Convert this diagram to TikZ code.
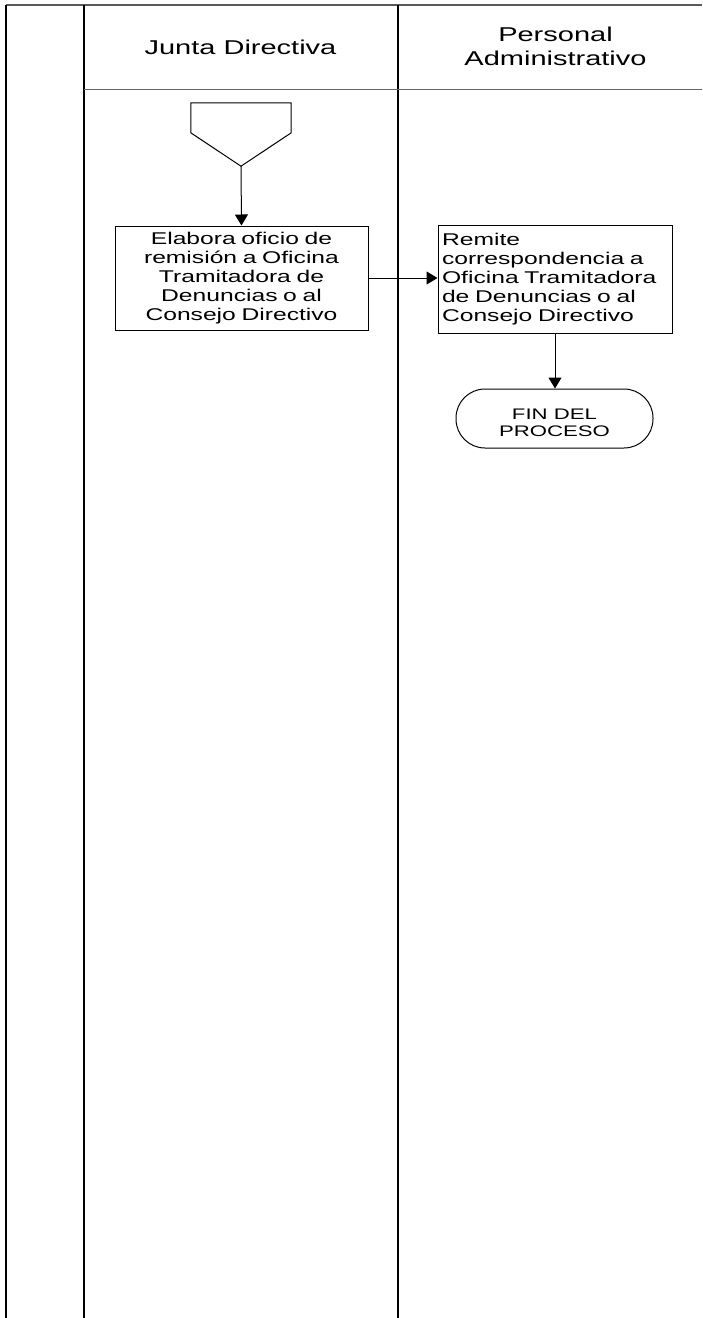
\documentclass[tikz,border=0pt]{standalone}
\usepackage{fontspec}
\setmainfont{Liberation Sans}
\newfontfamily\wide[FakeStretch=1.45]{Liberation Sans}
\usetikzlibrary{arrows.meta,calc}

\begin{document}
\begin{tikzpicture}[x=1pt,y=-1pt,
  lane/.style={line width=2pt, draw=black},
  toprule/.style={line width=2.4pt, draw=black!65},
  headrule/.style={line width=1.2pt, draw=black!60},
  head/.style={font=\wide\fontsize{20}{24}\selectfont, align=center, inner sep=0pt},
  proc/.style={draw, line width=1pt, inner xsep=4pt, inner ysep=0pt,
    font=\wide\fontsize{17}{19}\selectfont},
  term/.style={draw, line width=1pt, rounded corners=29pt,
    minimum width=197pt, minimum height=59pt, inner sep=0pt},
  termtext/.style={font=\wide\fontsize{15.3}{16.8}\selectfont, align=center, inner sep=0pt},
  flow/.style={line width=1pt, -{Triangle[length=11pt,width=13pt]}},
]
\useasboundingbox (0,0) rectangle (702,1318);

% swimlane frame
\draw[toprule] (5.5,5) -- (702,5);
\draw[lane] (5.5,5) -- (5.5,1318);
\draw[lane] (83.5,5) -- (83.5,1318);
\draw[lane] (398,5) -- (398,1318);
\draw[headrule] (83.5,89.5) -- (702,89.5);

% lane titles
\node[head] (h1) at (240.5,47.5) {Junta Directiva};
\node[head] (h2) at (555.5,46) {Personal\\Administrativo};

% off-page connector
\node[minimum width=100pt, minimum height=63pt, inner sep=0pt] (off) at (241,134.5) {};
\draw[line width=1pt] (off.north west) -- (off.north east)
  -- ($(off.north east)+(0,30)$) -- (off.south)
  -- ($(off.north west)+(0,30)$) -- cycle;

% process steps
\node[proc, minimum width=253pt, minimum height=104pt, text width=245pt, align=center]
  (elab) at (241.5,278)
  {Elabora oficio de\\remisión a Oficina\\Tramitadora de\\Denuncias o al\\Consejo Directivo};
\node[proc, minimum width=234pt, minimum height=108pt, text width=226pt, align=left]
  (remite) at (555,279)
  {Remite\\correspondencia a\\Oficina Tramitadora\\de Denuncias o al\\Consejo Directivo};

% end of process
\node[term] (fin) at (554.5,418.5) {};
\node[termtext] (fintext) at ($(fin.center)+(0,4)$) {FIN DEL\\PROCESO};

% connectors
\draw[flow] (off.south) -- (elab.north);
\draw[flow] (elab.east) -- (elab.east -| remite.west);
\draw[flow] (remite.south) -- (remite.south |- fin.north);
\end{tikzpicture}
\end{document}
